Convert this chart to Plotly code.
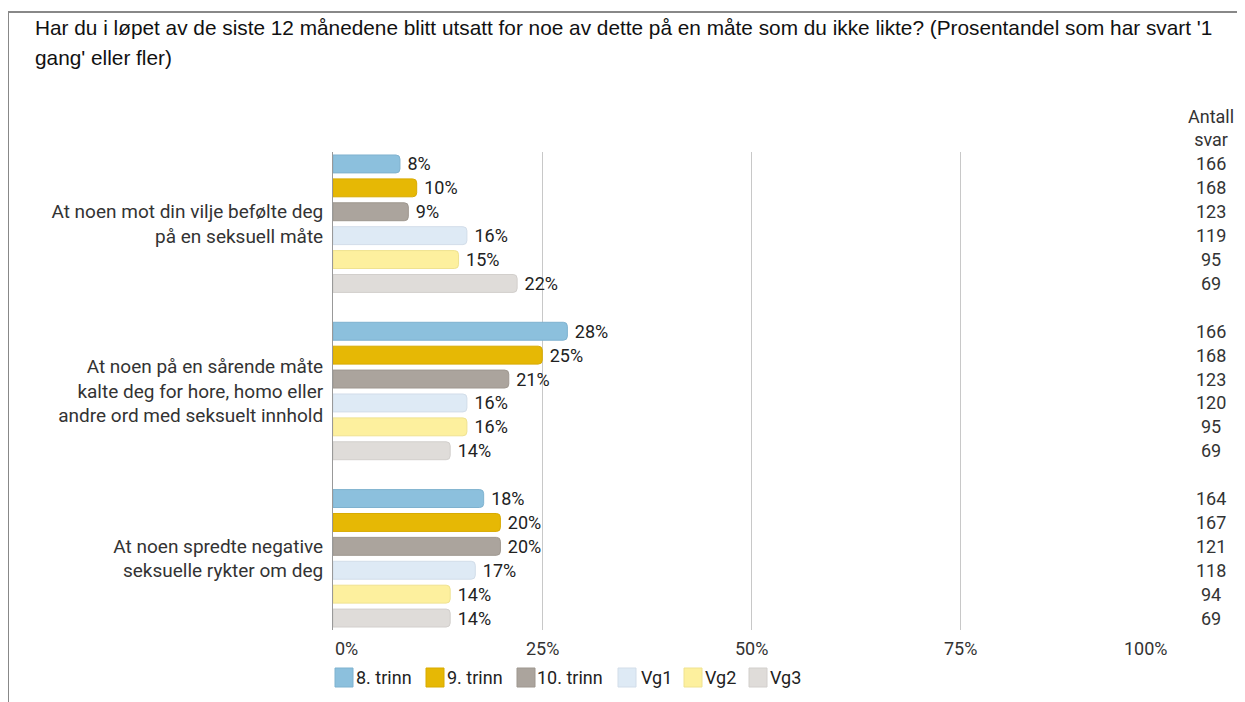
import plotly.graph_objects as go

categories = [
    "At noen mot din vilje befølte deg<br>på en seksuell måte",
    "At noen på en sårende måte<br>kalte deg for hore, homo eller<br>andre ord med seksuelt innhold",
    "At noen spredte negative<br>seksuelle rykter om deg",
]
series_names = ["8. trinn", "9. trinn", "10. trinn", "Vg1", "Vg2", "Vg3"]
series_colors = ["#8cc0dd", "#e6b805", "#aba49d", "#deeaf5", "#fdf09e", "#dfdcd9"]
series_edges = ["#7fb2cf", "#d8aa00", "#9e978f", "#d2dde9", "#efe290", "#d2cfcc"]
values = {
    "8. trinn": [8, 28, 18],
    "9. trinn": [10, 25, 20],
    "10. trinn": [9, 21, 20],
    "Vg1": [16, 16, 17],
    "Vg2": [15, 16, 14],
    "Vg3": [22, 14, 14],
}
counts = {
    "8. trinn": [166, 166, 164],
    "9. trinn": [168, 168, 167],
    "10. trinn": [123, 123, 121],
    "Vg1": [119, 120, 118],
    "Vg2": [95, 95, 94],
    "Vg3": [69, 69, 69],
}
x_ticks = [0, 25, 50, 75, 100]
title_lines = [
    "Har du i løpet av de siste 12 månedene blitt utsatt for noe av dette på en måte som du ikke likte? "
    "(Prosentandel som har svart '1",
    "gang' eller fler)",
]
count_header = "Antall<br>svar"

# layout geometry (figure is offset 8px by the page body margin)
W, H = 1237, 694
ML, MR, MT, MB = 325, 75, 144, 72
PW, PH = W - ML - MR, H - MT - MB


def px(x_page):
    return (x_page - 8 - ML) / PW


def py(y_page):
    return 1 - (y_page - 8 - MT) / PH


FONT = "Roboto"
FS = 18
n_series = len(series_names)
group_step = n_series + 1

fig = go.Figure()
for s, name in enumerate(series_names):
    ys = [g * group_step + s for g in range(len(categories))]
    fig.add_trace(go.Bar(
        x=values[name], y=ys, orientation="h", name=name, showlegend=False,
        marker=dict(color=series_colors[s], line=dict(width=1, color=series_edges[s])),
        width=0.75,
        text=[f" {v}%" for v in values[name]], textposition="outside", constraintext="none",
        textfont=dict(family=FONT, size=FS, color="#222222"),
        cliponaxis=False,
    ))
    for g in range(len(categories)):
        fig.add_annotation(
            x=px(1211), xref="paper", y=g * group_step + s, yref="y",
            text=str(counts[name][g]), showarrow=False, xanchor="center",
            font=dict(family=FONT, size=FS, color="#333333"),
        )

fig.add_annotation(x=px(1211), xref="paper", y=1.0, yref="paper", yanchor="bottom",
                   text=count_header, showarrow=False, xanchor="center",
                   font=dict(family=FONT, size=FS, color="#333333"))

# x tick labels (first and last pulled inward as in the reference)
for t in x_ticks:
    anchor = "left" if t == x_ticks[0] else ("right" if t == x_ticks[-1] else "center")
    fig.add_annotation(x=t, xref="x", y=py(648), yref="paper", xanchor=anchor, yanchor="middle",
                       text=f"{t}%", showarrow=False,
                       font=dict(family=FONT, size=FS, color="#333333"))

# title (two lines)
for line, yc in zip(title_lines, [27, 58]):
    fig.add_annotation(x=px(33), xref="paper", y=py(yc), yref="paper", xanchor="left", yanchor="middle",
                       text=line, showarrow=False, align="left",
                       font=dict(family="Liberation Sans, Arial, sans-serif", size=20.8,
                                 color="#111111"))

# legend drawn as keys + labels
legend_sq_x = [335, 426, 517, 618, 684, 749]
legend_tx_x = [354, 445, 535, 639, 703, 768]
for s, name in enumerate(series_names):
    fig.add_shape(type="rect", xref="paper", yref="paper",
                  x0=px(legend_sq_x[s]), x1=px(legend_sq_x[s] + 18),
                  y0=py(668), y1=py(687),
                  fillcolor=series_colors[s], line=dict(color=series_edges[s], width=1))
    fig.add_annotation(x=px(legend_tx_x[s]), xref="paper", y=py(677.5), yref="paper",
                       xanchor="left", yanchor="middle", text=name, showarrow=False,
                       font=dict(family=FONT, size=FS, color="#222222"))

# frame lines
fig.add_shape(type="line", xref="paper", yref="paper", x0=px(7), x1=px(1260), y0=py(12), y1=py(12),
              line=dict(color="#888888", width=2))
fig.add_shape(type="line", xref="paper", yref="paper", x0=px(8), x1=px(8), y0=py(12), y1=py(720),
              line=dict(color="#888888", width=2))

fig.update_layout(
    width=W, height=H,
    margin=dict(l=ML, r=MR, t=MT, b=MB),
    paper_bgcolor="white", plot_bgcolor="white",
    barmode="overlay", barcornerradius=4,
    showlegend=False,
    xaxis=dict(range=[0, 100], tickvals=x_ticks, showticklabels=False,
               showgrid=True, gridcolor="#c8c8c8", gridwidth=1, zeroline=False,
               showline=False, ticks="", fixedrange=True),
    yaxis=dict(range=[(len(categories) - 1) * group_step + n_series - 0.5, -0.5],
               tickvals=[g * group_step + (n_series - 1) / 2 for g in range(len(categories))],
               ticktext=categories, showgrid=False, zeroline=False,
               showline=True, linecolor="#999999", linewidth=1, ticks="", ticklabelstandoff=5,
               tickfont=dict(family=FONT, size=19, color="#333333")),
    font=dict(family=FONT),
)

fig.write_html("out.html")
